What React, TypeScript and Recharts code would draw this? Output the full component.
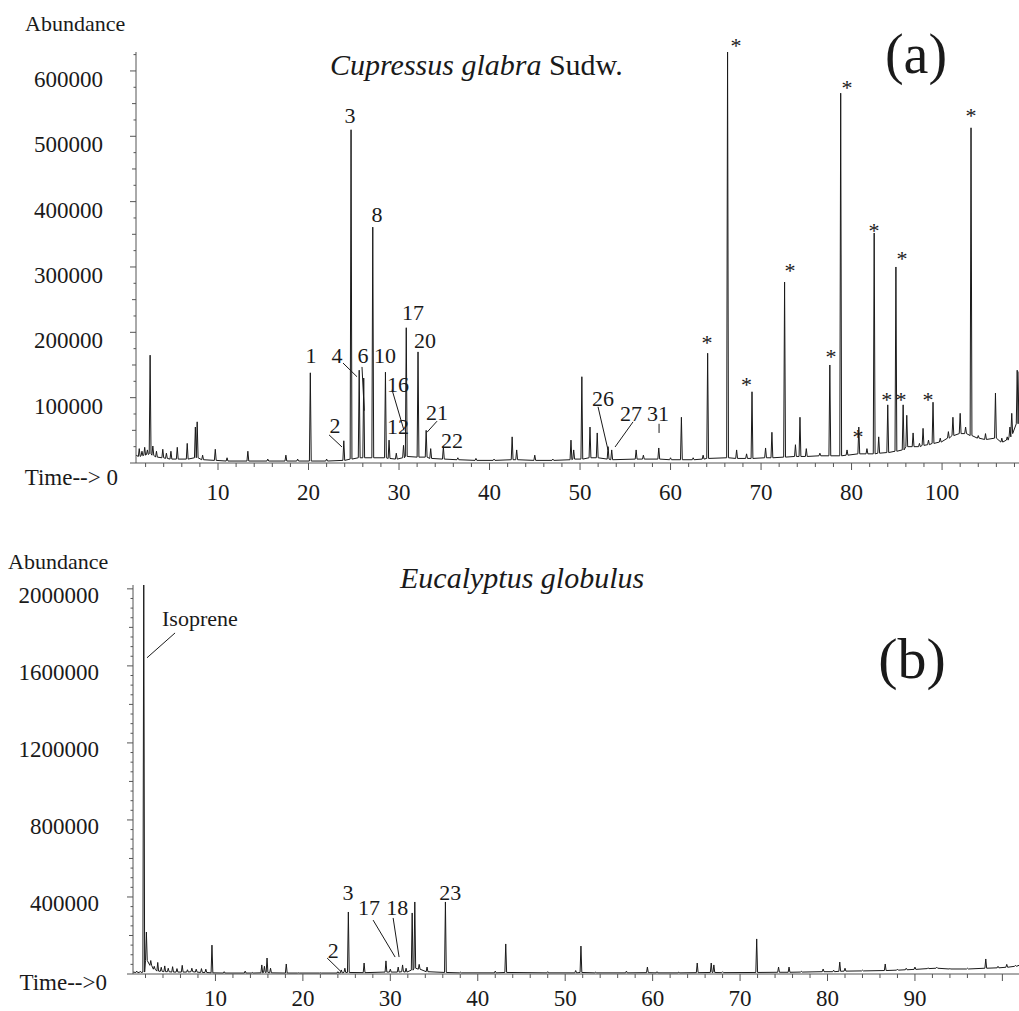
import React from 'react';
import { LineChart, Line, XAxis, YAxis, ReferenceDot, ReferenceLine } from 'recharts';

const SERIF = 'Liberation Serif';
const INK = '#1a1a1a';
const AXIS = '#555';

// ---------- (a) Cupressus glabra : [time, apex, foot] ----------
const aPeaks: [number, number, number][] = [
  [1.3, 22000, 10000], [1.6, 18000, 11000], [1.9, 24000, 12000], [2.2, 20000, 13000],
  [2.5, 165000, 14000], [2.8, 26000, 12000], [3.2, 18000, 9000], [3.9, 21000, 8000],
  [4.3, 15000, 7000], [4.8, 18000, 6000], [5.5, 24000, 6000], [6.6, 30000, 6000],
  [7.5, 55000, 8000], [7.7, 63000, 8000], [8.3, 12000, 5000], [9.7, 21000, 4000],
  [11.0, 8000, 3000], [13.3, 18000, 3000], [15.5, 6000, 3000], [17.5, 12000, 3000],
  [18.8, 6000, 3000], [20.2, 138000, 3000], [22.0, 6000, 3000], [23.9, 34000, 4000],
  [24.7, 510000, 6000], [25.6, 142000, 8000], [26.1, 130000, 8000], [27.1, 361000, 8000],
  [28.5, 139000, 8000], [28.9, 35000, 7000], [29.7, 15000, 6000], [30.5, 27000, 8000],
  [30.8, 207000, 10000], [32.1, 170000, 9000], [33.0, 50000, 9000], [33.5, 22000, 7000],
  [34.9, 25000, 6000], [36.5, 8000, 5000], [38.5, 7000, 4000], [40.5, 6000, 4000],
  [42.5, 40000, 5000], [43.0, 20000, 5000], [45.0, 12000, 4000], [47.0, 6000, 4000],
  [49.0, 35000, 5000], [49.3, 20000, 6000], [50.2, 132000, 6000], [51.1, 55000, 8000],
  [51.9, 46000, 8000], [53.1, 25000, 6000], [53.5, 20000, 5000], [56.2, 20000, 6000],
  [57.0, 12000, 6000], [58.7, 23000, 6000], [60.0, 8000, 5000], [61.2, 70000, 5000],
  [62.5, 8000, 5000], [63.6, 12000, 6000], [64.1, 168000, 7000], [66.3, 629000, 8000],
  [67.3, 20000, 7000], [68.4, 14000, 7000], [69.0, 109000, 7000], [70.5, 23000, 8000],
  [71.2, 47000, 8000], [72.6, 277000, 9000], [73.8, 28000, 10000], [74.3, 70000, 10000],
  [75.0, 22000, 10000], [76.5, 15000, 11000], [77.6, 150000, 11000], [78.8, 566000, 11000],
  [79.5, 20000, 12000], [80.8, 55000, 14000], [81.7, 22000, 14000], [82.5, 352000, 14000],
  [83.0, 40000, 15000], [84.0, 89000, 16000], [84.9, 300000, 18000], [85.7, 89000, 20000],
  [86.1, 73000, 25000], [86.8, 46000, 25000], [87.5, 30000, 25000], [87.9, 53000, 27000],
  [88.5, 35000, 28000], [89.0, 93000, 30000], [89.8, 38000, 32000], [90.7, 48000, 38000],
  [91.2, 70000, 42000], [92.0, 76000, 45000], [92.6, 55000, 45000], [93.2, 513000, 42000],
  [94.0, 42000, 38000], [94.8, 45000, 36000], [95.9, 107000, 38000], [96.6, 38000, 32000],
  [97.2, 40000, 35000], [97.5, 55000, 40000], [97.7, 76000, 45000], [98.3, 142000, 60000],
];
const aEnds: [number, number][] = [[0.94, 12000], [98.5, 140000]];

const aYLabels = [0, 100000, 200000, 300000, 400000, 500000, 600000];
// tick position -> printed text (the last major tick is printed "100" in the figure)
const aXLabels: [number, string][] = [
  [10, '10'], [20, '20'], [30, '30'], [40, '40'], [50, '50'], [60, '60'], [70, '70'], [80, '80'], [90, '100'],
];

const aNumLabels: [string, number, number][] = [
  ['1', 20.28, 153000], ['2', 22.93, 46000], ['3', 24.59, 520000], ['4', 23.15, 153000],
  ['6', 26.02, 153000], ['8', 27.57, 369000], ['10', 28.45, 153000], ['12', 29.89, 45000],
  ['16', 29.89, 109000], ['17', 31.55, 219000], ['20', 32.87, 176000], ['21', 34.2, 66000],
  ['22', 35.86, 23000], ['26', 52.54, 87000], ['27', 55.64, 64000], ['31', 58.62, 64000],
];
const aStars: [number, number][] = [
  [67.24, 627000], [73.2, 283000], [79.5, 563000], [82.49, 345000], [85.58, 301000],
  [93.2, 520000], [64.03, 173000], [68.4, 109000], [77.74, 151000], [80.7, 29000],
  [83.9, 86000], [85.47, 86000], [88.45, 86000],
];
const aLeaders: [number, number, number, number][] = [
  [22.27, 43000, 23.7, 24500], [23.81, 153000, 25.36, 132000], [25.91, 147000, 26.16, 80000],
  [29.23, 112000, 30.55, 50000], [34.2, 64000, 33.09, 47000], [51.99, 86000, 53.09, 20000],
  [55.86, 63000, 53.87, 24500], [58.73, 60000, 58.73, 46000],
];

// ---------- (b) Eucalyptus globulus ----------
const bPeaks: [number, number, number][] = [
  [1.0, 15000, 8000], [1.4, 14000, 8000], [1.8, 2100000, 10000], [2.1, 218000, 70000],
  [2.6, 70000, 45000], [3.0, 40000, 25000], [3.4, 60000, 15000], [3.8, 35000, 14000],
  [4.2, 42000, 12000], [4.6, 30000, 12000], [5.1, 38000, 10000], [5.6, 28000, 10000],
  [6.2, 45000, 10000], [6.8, 22000, 10000], [7.3, 30000, 12000], [7.8, 25000, 10000],
  [8.4, 28000, 8000], [8.9, 25000, 8000], [9.6, 150000, 6000], [11.0, 12000, 5000],
  [13.4, 15000, 5000], [14.2, 8000, 5000], [15.3, 47000, 6000], [15.6, 40000, 8000],
  [15.9, 83000, 8000], [16.3, 30000, 6000], [18.1, 52000, 5000], [19.5, 6000, 5000],
  [22.0, 6000, 5000], [24.0, 12000, 5000], [24.4, 21000, 6000], [24.8, 30000, 8000],
  [25.2, 322000, 8000], [27.0, 57000, 7000], [29.5, 68000, 10000], [30.0, 25000, 10000],
  [30.9, 36000, 10000], [31.4, 47000, 12000], [31.8, 30000, 10000], [32.5, 317000, 20000],
  [32.8, 374000, 30000], [33.3, 50000, 25000], [34.2, 36000, 12000], [36.3, 374000, 8000],
  [38.0, 10000, 6000], [42.0, 15000, 6000], [43.2, 156000, 8000], [48.0, 12000, 6000],
  [51.2, 18000, 6000], [51.8, 145000, 8000], [53.5, 10000, 6000], [57.0, 15000, 6000],
  [59.4, 36000, 7000], [60.5, 12000, 6000], [63.0, 10000, 6000], [65.1, 57000, 7000],
  [66.7, 57000, 8000], [67.0, 47000, 8000], [68.0, 12000, 7000], [71.9, 182000, 8000],
  [74.4, 36000, 9000], [75.6, 36000, 9000], [77.0, 14000, 10000], [79.5, 26000, 12000],
  [80.7, 20000, 12000], [81.4, 62000, 14000], [82.0, 30000, 15000], [84.0, 20000, 16000],
  [86.6, 52000, 18000], [88.0, 25000, 20000], [89.0, 30000, 22000], [90.0, 36000, 24000],
  [91.5, 32000, 28000], [92.5, 35000, 30000], [94.0, 28000, 26000], [96.0, 30000, 26000],
  [98.1, 78000, 30000], [99.5, 40000, 32000], [100.5, 50000, 35000], [101.5, 45000, 40000],
];
const bEnds: [number, number][] = [[0.57, 10000], [101.9, 45000]];

const bYLabels = [0, 400000, 800000, 1200000, 1600000, 2000000];
const bXLabels: [number, string][] = [
  [10, '10'], [20, '20'], [30, '30'], [40, '40'], [50, '50'], [60, '60'], [70, '70'], [80, '80'], [90, '90'],
];

const bNumLabels: [string, number, number][] = [
  ['2', 23.46, 83000], ['3', 25.17, 384000], ['17', 27.57, 306000], ['18', 30.78, 306000],
  ['23', 36.84, 384000],
];
const bLeaders: [number, number, number, number][] = [
  [22.77, 83000, 24.37, 12000], [28.03, 280000, 30.55, 88000], [30.32, 291000, 31.0, 88000],
  [5.38, 1771000, 2.17, 1642000],
];

// peak list -> polyline rows
const buildTrace = (peaks: [number, number, number][], ends: [number, number][]) => {
  const rows = [{ t: ends[0][0], y: ends[0][1] }];
  peaks.forEach(([t, top, foot]) => {
    rows.push({ t: t - 0.1, y: foot }, { t, y: top }, { t: t + 0.1, y: foot });
  });
  rows.push({ t: ends[1][0], y: ends[1][1] });
  return rows;
};

const steps = (from: number, to: number, step: number) => {
  const out: number[] = [];
  for (let v = from; v <= to + 1e-6; v += step) out.push(v);
  return out;
};

const makeYTick = (labels: number[], mid: number, zeroText: string, gap: number, zeroGap: number, dy: number, zdy: number) =>
  (props: any) => {
    const { x, y, payload } = props;
    const v = payload.value;
    const major = labels.includes(v);
    const len = major ? 6 : v % mid === 0 ? 4 : 2.5;
    return (
      <g>
        <line x1={x} x2={x - len} y1={y} y2={y} stroke={AXIS} strokeWidth={1} />
        {major && (
          <text x={x - (v === 0 ? zeroGap : gap)} y={y + (v === 0 ? zdy : dy)} textAnchor="end"
            fontFamily={SERIF} fontSize={23} fill={INK}>
            {v === 0 ? zeroText : String(v)}
          </text>
        )}
      </g>
    );
  };

const makeXTick = (labels: [number, string][], dy: number) => (props: any) => {
  const { x, y, payload } = props;
  const v = payload.value;
  const major = v % 10 === 0;
  const lab = labels.find((l) => l[0] === v);
  return (
    <g>
      <line x1={x} x2={x} y1={y} y2={y + (major ? 7 : 4)} stroke={AXIS} strokeWidth={1} />
      {lab && (
        <text x={x} y={y + dy} textAnchor="middle" fontFamily={SERIF} fontSize={23} fill={INK}>{lab[1]}</text>
      )}
    </g>
  );
};

const numShape = (text: string, anchor: 'middle' | 'start' = 'middle') => (p: any) => (
  <text x={p.cx} y={p.cy} textAnchor={anchor} fontFamily={SERIF} fontSize={22} fill={INK}>{text}</text>
);

const aData = buildTrace(aPeaks, aEnds);
const bData = buildTrace(bPeaks, bEnds);

const ChartA = () => (
  <LineChart width={1019} height={520} data={aData} margin={{ top: 52, right: 0, bottom: 20, left: 0 }}>
    <XAxis type="number" dataKey="t" domain={[0.94, 98.5]} allowDataOverflow ticks={steps(2, 98, 2)}
      interval={0} height={37} tickSize={0} tickMargin={0} tickLine={false}
      axisLine={{ stroke: AXIS }} tick={makeXTick(aXLabels, 37)} />
    <YAxis type="number" domain={[0, 629000]} allowDataOverflow ticks={steps(0, 625000, 25000)}
      interval={0} width={136} tickSize={0} tickMargin={0} tickLine={false}
      axisLine={{ stroke: AXIS }} tick={makeYTick(aYLabels, 50000, 'Time--> 0', 33, 18, 16, 22)} />
    <Line type="linear" dataKey="y" stroke={INK} strokeWidth={1} dot={false} isAnimationActive={false} />
    {aLeaders.map(([t1, v1, t2, v2], i) => (
      <ReferenceLine key={'al' + i} segment={[{ x: t1, y: v1 }, { x: t2, y: v2 }]} stroke={INK} strokeWidth={1} />
    ))}
    {aNumLabels.map(([s, t, v]) => (
      <ReferenceDot key={'an' + s} x={t} y={v} r={0} shape={numShape(s)} />
    ))}
    {aStars.map(([t, v], i) => (
      <ReferenceDot key={'as' + i} x={t} y={v} r={0} shape={numShape('*')} />
    ))}
  </LineChart>
);

const ChartB = () => (
  <LineChart width={1019} height={491} data={bData} margin={{ top: 65, right: 0, bottom: 0, left: 0 }}>
    <XAxis type="number" dataKey="t" domain={[0.57, 101.9]} allowDataOverflow ticks={steps(2, 100, 2)}
      interval={0} height={37} tickSize={0} tickMargin={0} tickLine={false}
      axisLine={{ stroke: AXIS }} tick={makeXTick(bXLabels, 32)} />
    <YAxis type="number" domain={[0, 2020000]} allowDataOverflow ticks={steps(0, 2000000, 50000)}
      interval={0} width={133} tickSize={0} tickMargin={0} tickLine={false}
      axisLine={{ stroke: AXIS }} tick={makeYTick(bYLabels, 200000, 'Time-->0', 34, 26, 14, 16)} />
    <Line type="linear" dataKey="y" stroke={INK} strokeWidth={1} dot={false} isAnimationActive={false} />
    {bLeaders.map(([t1, v1, t2, v2], i) => (
      <ReferenceLine key={'bl' + i} segment={[{ x: t1, y: v1 }, { x: t2, y: v2 }]} stroke={INK} strokeWidth={1} />
    ))}
    {bNumLabels.map(([s, t, v]) => (
      <ReferenceDot key={'bn' + s} x={t} y={v} r={0} shape={numShape(s)} />
    ))}
    <ReferenceDot x={3.89} y={1808000} r={0} shape={numShape('Isoprene', 'start')} />
  </LineChart>
);

export default function App() {
  return (
    <div style={{ position: 'absolute', left: 0, top: 0, width: 1019, height: 1011, background: '#fff', overflow: 'hidden' }}>
      <div style={{ position: 'absolute', left: 0, top: 0 }}><ChartA /></div>
      <div style={{ position: 'absolute', left: 0, top: 520 }}><ChartB /></div>
      <svg width={1019} height={1011} style={{ position: 'absolute', left: 0, top: 0, pointerEvents: 'none' }}>
        <g fill={INK} fontFamily={SERIF}>
          <text x={25} y={31} fontSize={22}>Abundance</text>
          <text x={330} y={75} fontSize={30}>
            <tspan fontStyle="italic">Cupressus glabra</tspan> Sudw.
          </text>
          <text x={916} y={73} textAnchor="middle" fontSize={56}>(a)</text>
          <text x={8} y={569} fontSize={22}>Abundance</text>
          <text x={400} y={588} fontSize={30} fontStyle="italic">Eucalyptus globulus</text>
          <text x={912} y={678} textAnchor="middle" fontSize={58}>(b)</text>
        </g>
      </svg>
    </div>
  );
}
